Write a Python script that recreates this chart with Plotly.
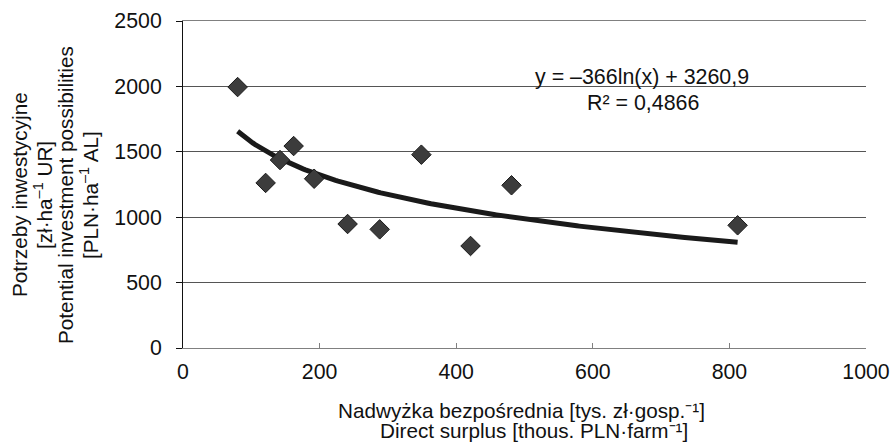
import numpy as np
import plotly.graph_objects as go

# Data
surplus = [80, 121, 142, 162, 192, 241, 288, 349, 421, 481, 812]
investment = [1995, 1262, 1437, 1544, 1294, 948, 907, 1478, 780, 1244, 938]

# Trend line coefficients shown on the chart: y = a ln(x) + b
coef_a = -366.0
coef_b = 3260.9
eq_text = "y = –366ln(x) + 3260,9"
r2_text = "R² = 0,4866"

x_ticks = [0, 200, 400, 600, 800, 1000]
y_ticks = [0, 500, 1000, 1500, 2000, 2500]

y_title_lines = ["Potrzeby inwestycyjne", "[zł·ha<sup>–1</sup> UR]",
                 "Potential investment possibilities", "[PLN·ha<sup>–1</sup> AL]"]
x_title_lines = ["Nadwyżka bezpośrednia [tys. zł·gosp.⁻¹]",
                 "Direct surplus [thous. PLN·farm⁻¹]"]

FONT = "Liberation Sans, Arial, sans-serif"
FS = 20.7
TFS = 21.3
EFS = 21.4

L, R, T, B = 183, 30, 21, 95
W, H = 896, 443
PH = H - T - B
PW = W - L - R

xt = np.linspace(min(surplus), max(surplus), 200)
yt = coef_a * np.log(xt) + coef_b

fig = go.Figure()
fig.add_trace(go.Scatter(
    x=xt, y=yt, mode="lines",
    line=dict(color="#1a1a1a", width=5),
    hoverinfo="skip", showlegend=False,
))
fig.add_trace(go.Scatter(
    x=surplus, y=investment, mode="markers",
    marker=dict(symbol="diamond", size=15, color="#3c3c3c",
                line=dict(color="#1a1a1a", width=1)),
    showlegend=False,
))

annotations = [
    dict(text=eq_text, xref="x", yref="y", x=672, y=2070,
         showarrow=False, font=dict(size=EFS), xanchor="center", yanchor="middle"),
    dict(text=r2_text, xref="x", yref="y", x=674, y=1870,
         showarrow=False, font=dict(size=EFS), xanchor="center", yanchor="middle"),
]
y_centers_px = [20, 43, 66, 89]
for txt, cx in zip(y_title_lines, y_centers_px):
    annotations.append(dict(
        text=txt, xref="paper", yref="paper", x=0, xshift=cx - L,
        y=(H - B - 195) / PH, textangle=-90, showarrow=False,
        font=dict(size=FS), xanchor="center", yanchor="middle"))
x_pos_px = [(521, 410), (534, 431)]
for txt, (cx, cy) in zip(x_title_lines, x_pos_px):
    annotations.append(dict(
        text=txt, xref="paper", yref="paper", x=(cx - L) / PW,
        y=(H - B - cy) / PH, showarrow=False,
        font=dict(size=FS), xanchor="center", yanchor="middle"))

fig.update_layout(
    width=W, height=H,
    margin=dict(l=L, r=R, t=T, b=B),
    paper_bgcolor="white", plot_bgcolor="white",
    font=dict(family=FONT, size=FS, color="#111111"),
    xaxis=dict(
        range=[0, 1000], tickvals=x_ticks, ticktext=[str(v) for v in x_ticks],
        showgrid=False, zeroline=False, automargin=False,
        showline=True, linecolor="#808080", linewidth=1, mirror=True,
        ticks="inside", ticklen=5, tickcolor="#808080",
        tickfont=dict(size=TFS, color="#111111"), ticklabelstandoff=4,
    ),
    yaxis=dict(
        range=[0, 2500], tickvals=y_ticks, ticktext=[str(v) for v in y_ticks],
        showgrid=True, gridcolor="#555555", gridwidth=1, zeroline=False,
        automargin=False,
        showline=True, linecolor="#111111", linewidth=1,
        ticks="outside", ticklen=6, tickcolor="#111111",
        tickfont=dict(size=TFS, color="#111111"), ticklabelstandoff=10,
    ),
    annotations=annotations,
)

fig.write_html("out.html", config={"displayModeBar": False},
               post_script="document.body.style.margin='0';document.body.style.overflow='hidden';")
